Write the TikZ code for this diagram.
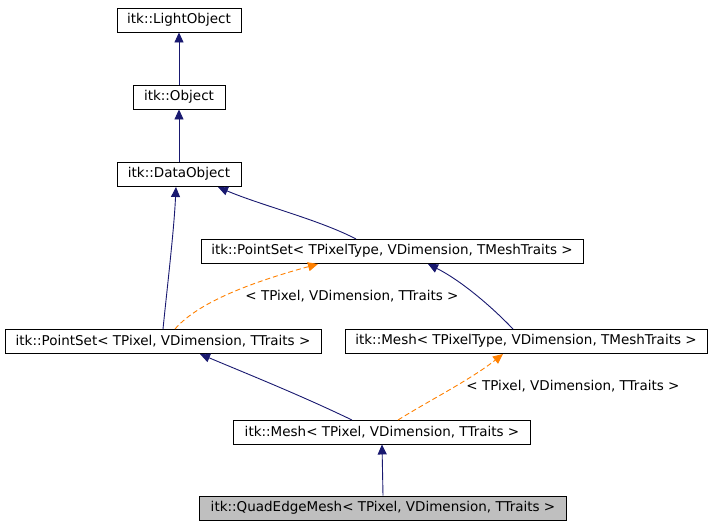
\documentclass[tikz,border=0pt]{standalone}
\usepackage{fontspec}
\setmainfont{DejaVu Sans}
\usetikzlibrary{arrows.meta}
\begin{document}
\begin{tikzpicture}[x=1pt,y=-1pt,line width=0.9pt,
 cls/.style={draw,inner sep=0pt,minimum height=24pt,font=\fontsize{13.5}{15}\selectfont,fill=white},
 inh/.style={draw={rgb,255:red,25;green,25;blue,112},-{Triangle[length=10pt,width=9pt,fill={rgb,255:red,25;green,25;blue,112}]}},
 tpl/.style={draw=orange,dashed,dash pattern=on 5pt off 3pt,-{Triangle[length=10pt,width=9pt,fill=orange]}},
 lbl/.style={font=\fontsize{13.5}{15}\selectfont,anchor=west,inner sep=0pt}]
\useasboundingbox (0,0) rectangle (712,528);
\node[cls,minimum width=124pt] (lo) at (179,20) {itk::LightObject};
\node[cls,minimum width=92pt] (ob) at (179,97) {itk::Object};
\node[cls,minimum width=124pt] (do) at (179,174) {itk::DataObject};
\node[cls,minimum width=382pt] (pst) at (392,251) {itk::PointSet< TPixelType, VDimension, TMeshTraits >};
\node[cls,minimum width=316pt] (ps) at (163,341) {itk::PointSet< TPixel, VDimension, TTraits >};
\node[cls,minimum width=362pt] (mt) at (526,341) {itk::Mesh< TPixelType, VDimension, TMeshTraits >};
\node[cls,minimum width=297pt] (m) at (382,432) {itk::Mesh< TPixel, VDimension, TTraits >};
\node[cls,minimum width=367pt,fill={rgb,255:red,191;green,191;blue,191}] (q) at (383,508) {itk::QuadEdgeMesh< TPixel, VDimension, TTraits >};
\draw[inh] (ob.north) -- (lo.south);
\draw[inh] (do.north) -- (ob.south);
\draw[inh] (356,239) .. controls (320,220) and (260,205) .. (218,187);
\draw[inh] (163,329) .. controls (168,280) and (174,230) .. (176,187);
\draw[inh] (513,329) .. controls (490,305) and (460,280) .. (428,264);
\draw[inh] (352,420) .. controls (300,395) and (250,375) .. (200,354);
\draw[inh] (q.north) -- (m.south);
\draw[tpl] (175,329) .. controls (200,300) and (260,280) .. (318,264);
\draw[tpl] (398,420) .. controls (430,400) and (470,380) .. (503,354);
\node[lbl] (l1) at (245,296) {< TPixel, VDimension, TTraits >};
\node[lbl] (l2) at (466,386) {< TPixel, VDimension, TTraits >};
\end{tikzpicture}
\end{document}
